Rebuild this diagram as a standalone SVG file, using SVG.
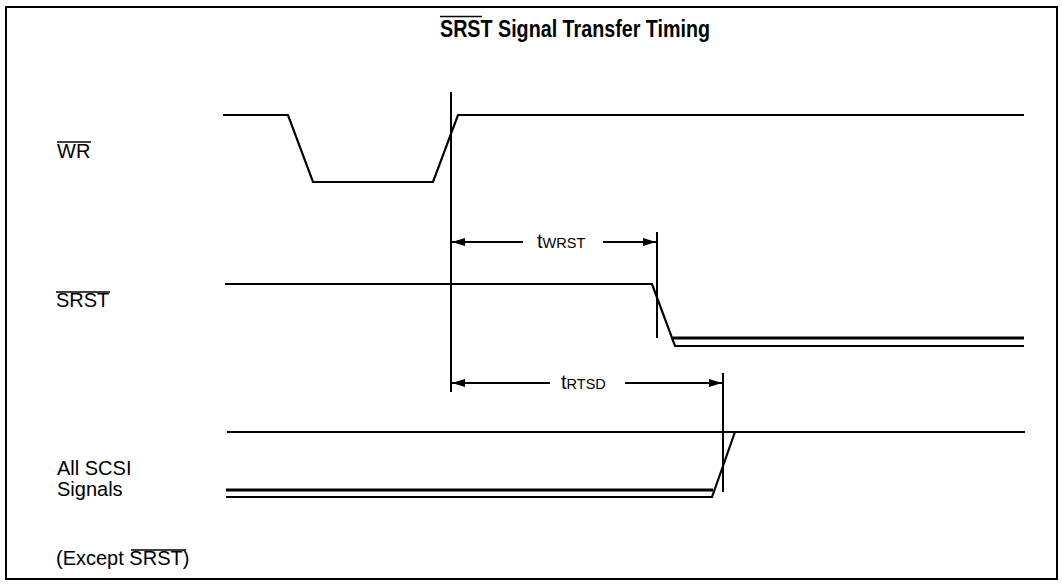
<svg xmlns="http://www.w3.org/2000/svg" width="1062" height="586" viewBox="0 0 1062 586">
<style>
  .sig { fill: none; stroke: #000; stroke-width: 2.2; stroke-linejoin: miter; }
  .thick { fill: none; stroke: #000; stroke-width: 3; }
  .ref { stroke: #000; stroke-width: 2; }
  .dim { stroke: #000; stroke-width: 2; }
  .lbl { font-family: "Liberation Sans", Arial, sans-serif; font-size: 20px; fill: #000; }
  .ttl { font-family: "Liberation Sans", Arial, sans-serif; font-size: 24px; font-weight: bold; fill: #000; }
  .ov { stroke: #000; stroke-width: 1.3; }
  .sub { font-size: 14.5px; }
</style>
<defs>
  <marker id="ah" viewBox="0 0 13 8" refX="13" refY="4" markerWidth="13" markerHeight="8" markerUnits="userSpaceOnUse" orient="auto">
    <path d="M0,0 L13,4 L0,8 Z" fill="#000"/>
  </marker>
</defs>
<rect x="0" y="0" width="1062" height="586" fill="#fff"/>
<rect x="6" y="7" width="1051" height="572" fill="none" stroke="#000" stroke-width="2"/>

<g id="title">
  <text class="ttl" x="440" y="37" textLength="270" lengthAdjust="spacingAndGlyphs">SRST Signal Transfer Timing</text>
  <line class="ov" x1="440" y1="16.5" x2="482" y2="16.5" stroke-width="1.6"/>
</g>

<g id="label-wr">
  <text class="lbl" x="57" y="158">WR</text>
  <line class="ov" x1="57" y1="142" x2="91" y2="142"/>
</g>
<g id="label-srst">
  <text class="lbl" x="56" y="307">SRST</text>
  <line class="ov" x1="56" y1="292" x2="110" y2="292"/>
</g>
<g id="label-scsi">
  <text class="lbl" x="57" y="475">All SCSI</text>
  <text class="lbl" x="57" y="496">Signals</text>
</g>
<g id="label-except">
  <text class="lbl" x="56" y="565">(Except SRST)</text>
  <line class="ov" x1="131" y1="550" x2="186" y2="550"/>
</g>

<g id="signal-wr">
  <polyline class="sig" points="223,115 288,115 313,182 433,182 458,115 1024,115"/>
</g>
<g id="signal-srst">
  <polyline class="sig" points="225,284 652,284 675,346 1024,346"/>
  <line class="thick" x1="673" y1="338" x2="1024" y2="338"/>
</g>
<g id="signal-scsi">
  <line class="sig" x1="227" y1="432" x2="1025" y2="432"/>
  <polyline class="sig" points="226,497 712,497 735,432"/>
  <line class="thick" x1="226" y1="490" x2="713" y2="490"/>
</g>

<g id="connectors">
  <line class="ref" x1="451" y1="92" x2="451" y2="392"/>
  <line class="ref" x1="657" y1="232" x2="657" y2="338"/>
  <line class="ref" x1="723" y1="373" x2="723" y2="492"/>
  <line class="dim" x1="523" y1="242" x2="452" y2="242" marker-end="url(#ah)"/>
  <line class="dim" x1="603" y1="242" x2="656" y2="242" marker-end="url(#ah)"/>
  <line class="dim" x1="550" y1="383" x2="452" y2="383" marker-end="url(#ah)"/>
  <line class="dim" x1="625" y1="383" x2="722" y2="383" marker-end="url(#ah)"/>
</g>

<g id="label-twrst">
  <text class="lbl" x="537" y="248">t<tspan class="sub">WRST</tspan></text>
</g>
<g id="label-trtsd">
  <text class="lbl" x="561" y="389">t<tspan class="sub" font-size="15.5px">RTSD</tspan></text>
</g>
</svg>
